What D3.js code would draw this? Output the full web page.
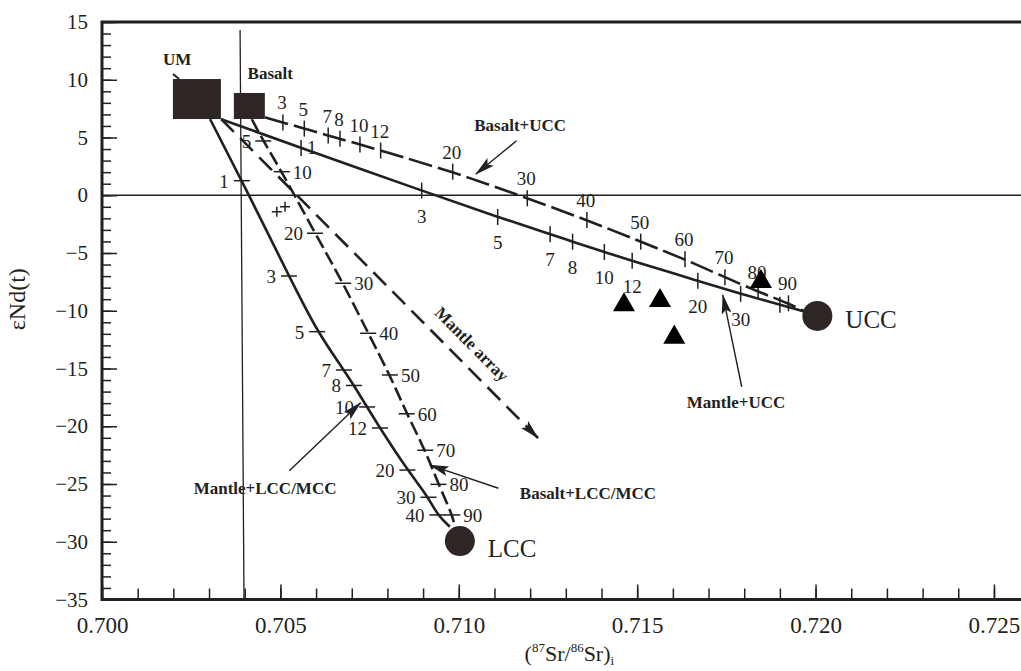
<!DOCTYPE html>
<meta charset="utf-8">
<script src="https://d3js.org/d3.v7.min.js"></script>
<style>
  body { margin: 0; background: #fff; }
  text { font-family: "Liberation Serif", "Times New Roman", serif; fill: #231f20; }
</style>
<body>
<div id="canvas"></div>
<script>

// end members and sources (x = 87Sr/86Sr, y = eNd)
var sources = [
    {name: "UM",     x: 0.70266, y: 8.33, w: 48, h: 40},
    {name: "Basalt", x: 0.70413, y: 7.73, w: 31, h: 26}
];
var endMembers = [
    {name: "UCC", x: 0.72005, y: -10.45},
    {name: "LCC", x: 0.71003, y: -29.94}
];

// mixing curves: [Sr, Nd, % label] ; null label = no tick
var mantleUcc = [
    [0.70334, 6.58, null], [0.70558, 4.10, "1"], [0.70896, 0.40, "3"], [0.71109, -1.88, "5"],
    [0.71256, -3.37, "7"], [0.71319, -4.02, "8"], [0.71408, -4.92, "10"], [0.71486, -5.67, "12"],
    [0.71670, -7.41, "20"], [0.71790, -8.53, "30"], [0.71900, -9.48, ""], [0.71970, -10.07, null]
];
var basaltUcc = [
    [0.70457, 6.75, null], [0.70507, 6.30, "3"], [0.70567, 5.77, "5"], [0.70634, 5.17, "7"],
    [0.70667, 4.89, "8"], [0.70723, 4.39, "10"], [0.70781, 3.87, "12"], [0.70983, 2.04, "20"],
    [0.71192, -0.26, "30"], [0.71359, -2.14, "40"], [0.71510, -4.02, "50"], [0.71634, -5.55, "60"],
    [0.71746, -7.10, "70"], [0.71839, -8.35, "80"], [0.71924, -9.36, "90"], [0.71970, -10.07, null]
];
var mantleLcc = [
    [0.70303, 6.58, null], [0.70392, 1.26, "1"], [0.70524, -6.99, "3"], [0.70603, -11.81, "5"],
    [0.70678, -15.13, "7"], [0.70706, -16.47, "8"], [0.70743, -18.33, "10"], [0.70779, -20.15, "12"],
    [0.70856, -23.79, "20"], [0.70915, -26.15, "30"], [0.70940, -27.68, "40"], [0.70975, -28.70, null]
];
var basaltLcc = [
    [0.70420, 6.58, null], [0.70452, 4.70, "5"], [0.70504, 2.04, "10"], [0.70597, -3.29, "20"],
    [0.70676, -7.62, "30"], [0.70746, -11.95, "40"], [0.70807, -15.56, "50"], [0.70854, -18.92, "60"],
    [0.70906, -22.08, "70"], [0.70943, -25.03, "80"], [0.70982, -27.68, "90"], [0.70989, -28.70, null]
];
var mantleArray = [[0.70334, 6.60], [0.71222, -21.02]];

// samples
var triangles = [[0.71463, -9.50], [0.71564, -9.13], [0.71604, -12.30], [0.71847, -7.48]];
var crosses = [[0.70490, -1.42], [0.70513, -0.99]];

// reference lines
var refVertical = [[0.70387, 14.3], [0.70398, -35]];

// annotations: label, text pos, arrow tail, arrow tip
var notes = [
    {text: "Basalt+UCC",     tx: 0.71172, ty: 5.56,   from: [0.71162, 4.72],   to: [0.71048, 1.84]},
    {text: "Mantle+UCC",     tx: 0.71777, ty: -18.42, from: [0.71793, -16.58], to: [0.71740, -8.64]},
    {text: "Mantle+LCC/MCC", tx: 0.70457, ty: -25.87, from: [0.70525, -23.85], to: [0.70725, -17.96]},
    {text: "Basalt+LCC/MCC", tx: 0.71362, ty: -26.30, from: [0.71111, -25.37], to: [0.70919, -23.36]}
];

var xMajor = [0.700, 0.705, 0.710, 0.715, 0.720, 0.725];
var yMajor = [15, 10, 5, 0, -5, -10, -15, -20, -25, -30, -35];

var width = 1021, height = 671;
var ink = "#231f20", fillDark = "#2e2624";

var svg = d3.select("#canvas").append("svg")
    .attr("width", width).attr("height", height);

var x = d3.scaleLinear().domain([0.700, 0.7258]).range([102, 1022.5]);
var y = d3.scaleLinear().domain([-35, 15]).range([599.5, 22]);

var defs = svg.append("defs");
defs.append("marker").attr("id", "arr")
    .attr("markerUnits", "userSpaceOnUse")
    .attr("markerWidth", 20).attr("markerHeight", 10)
    .attr("refX", 19).attr("refY", 5).attr("orient", "auto")
    .append("path").attr("d", "M0,0L20,5L0,10L4,5Z").attr("fill", ink);

// axes ------------------------------------------------------------
var x0 = x(0.700), x1 = x.range()[1];

svg.append("g").attr("transform", "translate(0," + y(-35) + ")")
    .call(d3.axisBottom(x).tickValues(x.ticks(25)).tickSize(-11).tickFormat(""))
    .call(function(g) { g.select(".domain").remove(); g.selectAll("line").attr("stroke", ink).attr("stroke-width", 1.5); });
svg.append("g").attr("transform", "translate(0," + y(-35) + ")")
    .call(d3.axisBottom(x).tickValues(xMajor).tickSize(-15).tickPadding(17).tickFormat(d3.format(".3f")))
    .call(function(g) {
        g.select(".domain").remove();
        g.selectAll("line").attr("stroke", ink).attr("stroke-width", 1.5);
        g.selectAll("text").attr("font-size", 23).attr("font-family", null).attr("fill", ink);
    });

svg.append("g").attr("transform", "translate(" + x0 + ",0)")
    .call(d3.axisLeft(y).tickValues(y.ticks(50)).tickSize(-9).tickFormat(""))
    .call(function(g) { g.select(".domain").remove(); g.selectAll("line").attr("stroke", ink).attr("stroke-width", 1.5); });
svg.append("g").attr("transform", "translate(" + x0 + ",0)")
    .call(d3.axisLeft(y).tickValues(yMajor).tickSize(-15).tickPadding(14))
    .call(function(g) {
        g.select(".domain").remove();
        g.selectAll("line").attr("stroke", ink).attr("stroke-width", 1.5);
        g.selectAll("text").attr("font-size", 21).attr("font-family", null).attr("fill", ink);
    });

// frame
svg.append("rect")
    .attr("x", x0).attr("y", y(15))
    .attr("width", x1 - x0).attr("height", y(-35) - y(15))
    .attr("fill", "none").attr("stroke", ink).attr("stroke-width", 3);

// axis titles
svg.append("text")
    .attr("transform", "translate(25," + y(-9) + ") rotate(-90)")
    .attr("text-anchor", "middle").attr("font-size", 24)
    .text("εNd(t)");

var xt = svg.append("text").attr("x", x(0.7131)).attr("y", 661)
    .attr("text-anchor", "middle").attr("font-size", 22);
xt.append("tspan").text("(");
xt.append("tspan").attr("font-size", 13).attr("dy", -9).text("87");
xt.append("tspan").attr("dy", 9).text("Sr/");
xt.append("tspan").attr("font-size", 13).attr("dy", -9).text("86");
xt.append("tspan").attr("dy", 9).text("Sr)");
xt.append("tspan").attr("font-size", 13).attr("dy", 4).text("i");

// reference lines -------------------------------------------------
svg.append("line")
    .attr("x1", x0).attr("x2", x1).attr("y1", y(0)).attr("y2", y(0))
    .attr("stroke", ink).attr("stroke-width", 1.3);
svg.append("line")
    .attr("x1", x(refVertical[0][0])).attr("y1", y(refVertical[0][1]))
    .attr("x2", x(refVertical[1][0])).attr("y2", y(refVertical[1][1]))
    .attr("stroke", ink).attr("stroke-width", 1.3);

// mixing curves ---------------------------------------------------
var line = d3.line()
    .x(function(d) { return x(d[0]); })
    .y(function(d) { return y(d[1]); })
    .curve(d3.curveBasis);

function drawCurve(data, dash, tickDir, labelPos) {
    svg.append("path")
        .attr("d", line(data))
        .attr("fill", "none").attr("stroke", ink).attr("stroke-width", 2.6)
        .attr("stroke-dasharray", dash);
    var ticks = data.filter(function(d) { return d[2] !== null; });
    svg.selectAll(null).data(ticks).enter().append("line")
        .attr("x1", function(d) { return x(d[0]) - (tickDir == "h" ? 8 : 0); })
        .attr("x2", function(d) { return x(d[0]) + (tickDir == "h" ? 8 : 0); })
        .attr("y1", function(d) { return y(d[1]) - (tickDir == "v" ? 8 : 0); })
        .attr("y2", function(d) { return y(d[1]) + (tickDir == "v" ? 8 : 0); })
        .attr("stroke", ink).attr("stroke-width", 1.5);
    svg.selectAll(null).data(ticks).enter().append("text")
        .attr("font-size", 19)
        .each(function(d) {
            var p = labelPos(d[2]);
            d3.select(this)
                .attr("x", x(d[0]) + p[0]).attr("y", y(d[1]) + p[1])
                .attr("text-anchor", p[2]);
        })
        .text(function(d) { return d[2]; });
}

drawCurve(mantleUcc, null, "v", function(t) {
    return t == "1" ? [6, 6, "start"] : [0, 32, "middle"];
});
drawCurve(basaltUcc, "24,6", "v", function(t) {
    return [-1, -13, "middle"];
});
drawCurve(mantleLcc, null, "h", function(t) {
    return [-13, 7, "end"];
});
drawCurve(basaltLcc, "14,5", "h", function(t) {
    return (t == "5" || t == "20") ? [-12, 7, "end"] : [11, 7, "start"];
});

// mantle array
svg.append("path")
    .attr("d", d3.line()(mantleArray.map(function(d) { return [x(d[0]), y(d[1])]; })))
    .attr("fill", "none").attr("stroke", ink).attr("stroke-width", 2.6)
    .attr("stroke-dasharray", "18,9")
    .attr("marker-end", "url(#arr)");

var maAngle = Math.atan2(y(mantleArray[1][1]) - y(mantleArray[0][1]),
                         x(mantleArray[1][0]) - x(mantleArray[0][0])) * 180 / Math.PI;
svg.append("text")
    .attr("transform", "translate(" + x(0.71037) + "," + y(-12.88) + ") rotate(" + maAngle + ")")
    .attr("text-anchor", "middle").attr("dy", "0.35em")
    .attr("font-size", 17).attr("font-weight", "bold")
    .text("Mantle array");

// sources and end members -----------------------------------------
svg.selectAll(".src").data(sources).enter().append("rect")
    .attr("x", function(d) { return x(d.x) - d.w / 2; })
    .attr("y", function(d) { return y(d.y) - d.h / 2; })
    .attr("width", function(d) { return d.w; })
    .attr("height", function(d) { return d.h; })
    .attr("fill", fillDark);

svg.append("text").attr("x", x(0.70171)).attr("y", y(11.28))
    .attr("font-size", 17).attr("font-weight", "bold").text("UM");
svg.append("line")
    .attr("x1", x(0.70199)).attr("y1", y(10.50)).attr("x2", x(0.70216)).attr("y2", y(10.07))
    .attr("stroke", ink).attr("stroke-width", 2);
svg.append("text").attr("x", x(0.70408)).attr("y", y(10.07))
    .attr("font-size", 17).attr("font-weight", "bold").text("Basalt");

svg.selectAll(".em").data(endMembers).enter().append("circle")
    .attr("cx", function(d) { return x(d.x); })
    .attr("cy", function(d) { return y(d.y); })
    .attr("r", 15)
    .attr("fill", fillDark);
svg.selectAll(".emt").data(endMembers).enter().append("text")
    .attr("x", function(d) { return x(d.x) + 28; })
    .attr("y", function(d) { return y(d.y) + (d.name == "LCC" ? 16 : 12); })
    .attr("font-size", 25)
    .text(function(d) { return d.name; });

// samples
svg.selectAll(".tri").data(triangles).enter().append("path")
    .attr("d", d3.symbol().type(d3.symbolTriangle).size(210))
    .attr("transform", function(d) { return "translate(" + x(d[0]) + "," + y(d[1]) + ")"; })
    .attr("fill", "#000");
svg.selectAll(".crs").data(crosses).enter().append("path")
    .attr("d", "M-5,0H5M0,-5V5")
    .attr("transform", function(d) { return "translate(" + x(d[0]) + "," + y(d[1]) + ")"; })
    .attr("stroke", ink).attr("stroke-width", 1.5);

// annotations -----------------------------------------------------
svg.selectAll(".na").data(notes).enter().append("line")
    .attr("x1", function(d) { return x(d.from[0]); })
    .attr("y1", function(d) { return y(d.from[1]); })
    .attr("x2", function(d) { return x(d.to[0]); })
    .attr("y2", function(d) { return y(d.to[1]); })
    .attr("stroke", ink).attr("stroke-width", 1.4)
    .attr("marker-end", "url(#arr)");
svg.selectAll(".nt").data(notes).enter().append("text")
    .attr("x", function(d) { return x(d.tx); })
    .attr("y", function(d) { return y(d.ty); })
    .attr("text-anchor", "middle")
    .attr("font-size", 17).attr("font-weight", "bold")
    .text(function(d) { return d.text; });

</script>
</body>
